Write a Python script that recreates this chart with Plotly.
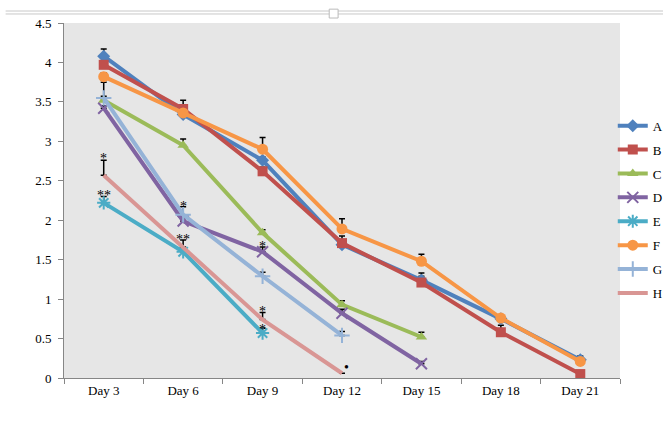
import plotly.graph_objects as go

days = ["Day 3", "Day 6", "Day 9", "Day 12", "Day 15", "Day 18", "Day 21"]

names = ["A", "B", "C", "D", "E", "F", "G", "H"]
A = [4.08, 3.34, 2.76, 1.69, 1.24, 0.75, 0.23]
B = [3.97, 3.41, 2.62, 1.71, 1.21, 0.58, 0.05]
C = [3.52, 2.95, 1.84, 0.93, 0.52]
D = [3.42, 1.99, 1.60, 0.82, 0.18]
E = [2.22, 1.60, 0.57]
F = [3.82, 3.36, 2.90, 1.89, 1.48, 0.76, 0.21]
G = [3.55, 2.07, 1.29, 0.54]
H = [2.57, 1.66, 0.74, 0.06]

errA = [0.09, 0.04, 0.04, 0.03, 0.05, 0.04, 0.03]
errB = [0.05, 0.11, 0.05, 0.09, 0.12, 0.09, 0.02]
errC = [0.05, 0.08, 0.04, 0.05, 0.06]
errD = [0.03, 0.04, 0.06, 0.05, 0.03]
errE = [0.08, 0.05, 0.06]
errF = [0.05, 0.05, 0.15, 0.13, 0.09, 0.04, 0.07]
errG = [0.20, 0.10, 0.05, 0.05]
errH = [0.19, 0.09, 0.09, 0.00]

star_days = ["Day 3", "Day 3", "Day 6", "Day 6", "Day 9", "Day 9", "Day 9", "Day 12"]
star_vals = [2.78, 2.31, 2.17, 1.75, 1.67, 0.84, 0.61, 0.13]
star_text = ["*", "**", "*", "**", "*", "*", "*", "•"]

series = [A, B, C, D, E, F, G, H]
errs = [errA, errB, errC, errD, errE, errF, errG, errH]
colors = ["#4F81BD", "#C0504D", "#9BBB59", "#8064A2", "#4BACC6", "#F79646", "#95B3D7", "#D99694"]
symbols = ["diamond", "square", "triangle-up", "x-thin-open", "asterisk-open", "circle", "cross-thin-open", None]
sizes = [10, 10, 10, 11, 11, 11, 11, 0]

fig = go.Figure()

# error bars (plus direction) drawn underneath
for vals, err in zip(series, errs):
    fig.add_trace(go.Scatter(
        x=days[:len(vals)], y=vals, mode="markers",
        marker=dict(size=1, opacity=0),
        error_y=dict(type="data", array=err, arrayminus=[0] * len(err), symmetric=False,
                     color="#000000", thickness=1.5, width=3),
        showlegend=False, hoverinfo="skip"))

for name, vals, col, sym, sz in zip(names, series, colors, symbols, sizes):
    if sym is None:
        fig.add_trace(go.Scatter(x=days[:len(vals)], y=vals, mode="lines", name=name,
                                 legendgroup=name,
                                 line=dict(color=col, width=4)))
    else:
        mk = dict(symbol=sym, size=sz, color=col)
        if "open" in sym:
            mk["line"] = dict(color=col, width=2)
        fig.add_trace(go.Scatter(x=days[:len(vals)], y=vals, mode="lines+markers", name=name,
                                 legendgroup=name,
                                 line=dict(color=col, width=4), marker=mk))

for d, v, t in zip(star_days, star_vals, star_text):
    fig.add_annotation(x=d, y=v, text=t, showarrow=False,
                       xshift=4 if t == "•" else 0,
                       font=dict(family="Liberation Serif", size=14, color="#000000"))

# decorative top selection line and handle
fig.add_shape(type="line", xref="paper", yref="paper", x0=-0.105, x1=1.08, y0=1.0338, y1=1.0338,
              line=dict(color="#C8C8C8", width=1))
fig.add_shape(type="line", xref="paper", yref="paper", x0=-0.105, x1=1.08, y0=1.0254, y1=1.0254,
              line=dict(color="#C8C8C8", width=1))
fig.add_shape(type="rect", xref="paper", yref="paper", x0=0.477, x1=0.493, y0=1.014, y1=1.039,
              fillcolor="#FFFFFF", line=dict(color="#BBBBBB", width=1))

fig.update_layout(
    width=663, height=421,
    margin=dict(l=64, r=43, t=23, b=43, autoexpand=False),
    paper_bgcolor="#FFFFFF",
    plot_bgcolor="#E6E6E6",
    font=dict(family="Liberation Serif", size=13, color="#000000"),
    showlegend=True,
    legend=dict(x=0.987, xanchor="left", y=0.753, yanchor="top",
                traceorder="grouped", tracegroupgap=4,
                bgcolor="rgba(0,0,0,0)",
                font=dict(family="Liberation Serif", size=13, color="#000000")),
    xaxis=dict(type="category", categoryorder="array", categoryarray=days,
               range=[-0.5, 6.5], showgrid=False, showline=True, linecolor="#868686",
               linewidth=1, ticks="outside", tickson="boundaries", ticklen=5,
               tickcolor="#868686", zeroline=False,
               tickfont=dict(family="Liberation Serif", size=13, color="#000000")),
    yaxis=dict(range=[0, 4.5], dtick=0.5, tick0=0, showgrid=False, showline=True,
               linecolor="#868686", linewidth=1, ticks="outside", ticklen=5,
               tickcolor="#868686", zeroline=False, ticklabelstandoff=4,
               tickfont=dict(family="Liberation Serif", size=13, color="#000000")),
)

fig.write_html("out.html", config={"displayModeBar": False},
               post_script="document.body.style.margin='0';")
